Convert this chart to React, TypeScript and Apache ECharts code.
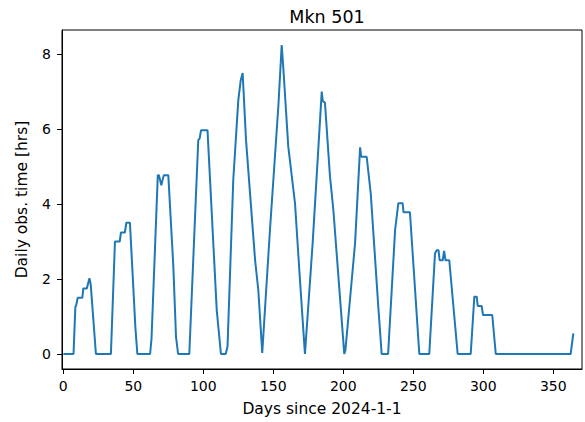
import React, { useEffect, useRef } from "react";
import * as echarts from "echarts";

// Vertices of the curve (day, hours)
const days: number[] = [
  0, 7.3, 8.6, 9.2, 10.3, 13.6, 14.3, 16.8, 18.7, 19.6, 23.3,
  34, 36.9, 40.3, 41.2, 44, 45, 47.6, 51.5, 52.9,
  62, 63, 67.5, 68.3, 70, 71.8, 75, 78.6, 80.5, 82,
  90, 96.4, 97.4, 98.4, 103, 109.6, 112.6, 116,
  117.3, 121.4, 125, 126.7, 128.1, 130.5, 137, 139.3, 142.1,
  147.6, 153.6, 156, 157.2, 160.7, 165.5, 169, 172.6,
  178.1, 184.6, 185.3, 186.9, 190.5, 192.9, 200.7,
  201.5, 208.4, 212, 212.8, 216.7, 219.6, 225, 227.4, 232,
  237, 239.3, 242.4, 243, 247.6, 254.3, 261.4,
  265.5, 266.7, 268, 268.8, 271, 272, 273, 275.7, 281.7,
  291, 293.6, 295.3, 296, 298.8, 299.8, 306.4, 308.9, 362.4, 364.3,
];
const hours: number[] = [
  0, 0, 1.25, 1.3, 1.5, 1.5, 1.75, 1.75, 2.02, 1.85, 0,
  0, 3.0, 3.0, 3.24, 3.24, 3.5, 3.5, 0.7, 0,
  0, 0.4, 4.77, 4.77, 4.5, 4.77, 4.77, 2.33, 0.46, 0,
  0, 5.7, 5.75, 5.97, 5.97, 1.17, 0, 0,
  0.2, 4.64, 6.77, 7.29, 7.49, 5.71, 2.5, 1.7, 0.03,
  3.3, 6.6, 8.24, 7.6, 5.53, 4.02, 2.0, 0,
  2.95, 7.0, 6.75, 6.7, 4.73, 3.84, 0,
  0.1, 2.95, 5.51, 5.26, 5.26, 4.28, 1.26, 0, 0,
  3.31, 4.02, 4.02, 3.78, 3.78, 0, 0,
  2.68, 2.77, 2.77, 2.5, 2.5, 2.75, 2.5, 2.5, 0,
  0, 1.53, 1.53, 1.28, 1.28, 1.04, 1.04, 0, 0, 0.55,
];

const xTicks: number[] = [0, 50, 100, 150, 200, 250, 300, 350];
const yTicks: number[] = [0, 2, 4, 6, 8];

const titleText = "Mkn 501";
const xName = "Days since 2024-1-1";
const yName = "Daily obs. time [hrs]";

export default function App() {
  const ref = useRef<HTMLDivElement>(null);
  useEffect(() => {
    if (!ref.current) return;
    const chart = echarts.init(ref.current, null, { renderer: "svg" });
    const font = "DejaVu Sans";
    chart.setOption({
      animation: false,
      backgroundColor: "#ffffff",
      textStyle: { fontFamily: font, color: "#000" },
      title: {
        text: titleText,
        left: 322,
        textAlign: "center",
        top: 3,
        textStyle: { fontFamily: font, fontSize: 17.5, fontWeight: "normal", color: "#000" },
      },
      grid: {
        left: 62,
        right: 3,
        top: 30,
        bottom: 53,
        show: true,
        borderColor: "#000",
        borderWidth: 1,
        backgroundColor: "transparent",
      },
      xAxis: {
        type: "value",
        min: -0.93,
        max: 370.5,
        name: xName,
        nameLocation: "middle",
        nameGap: 32,
        nameTextStyle: { fontFamily: font, fontSize: 15.5, color: "#000" },
        axisLine: { show: true, onZero: false, lineStyle: { color: "#000", width: 1 } },
        axisTick: { show: true, length: 5, customValues: xTicks, lineStyle: { color: "#000" } },
        axisLabel: { customValues: xTicks, fontFamily: font, fontSize: 14, color: "#000", margin: 10 },
        splitLine: { show: false },
      },
      yAxis: {
        type: "value",
        min: -0.4,
        max: 8.64,
        name: yName,
        nameLocation: "middle",
        nameGap: 32,
        nameTextStyle: { fontFamily: font, fontSize: 15.5, color: "#000" },
        axisLine: { show: true, onZero: false, lineStyle: { color: "#000", width: 1 } },
        axisTick: { show: true, length: 5, customValues: yTicks, lineStyle: { color: "#000" } },
        axisLabel: { customValues: yTicks, fontFamily: font, fontSize: 14, color: "#000", margin: 11 },
        splitLine: { show: false },
      },
      series: [
        {
          type: "line",
          data: days.map((d, i) => [d, hours[i]]),
          showSymbol: false,
          symbol: "none",
          lineStyle: { color: "#1f77b4", width: 2 },
          itemStyle: { color: "#1f77b4" },
        },
      ],
    });
    return () => chart.dispose();
  }, []);
  return (
    <div
      ref={ref}
      style={{ position: "fixed", left: 0, top: 0, width: 585, height: 422 }}
    />
  );
}
